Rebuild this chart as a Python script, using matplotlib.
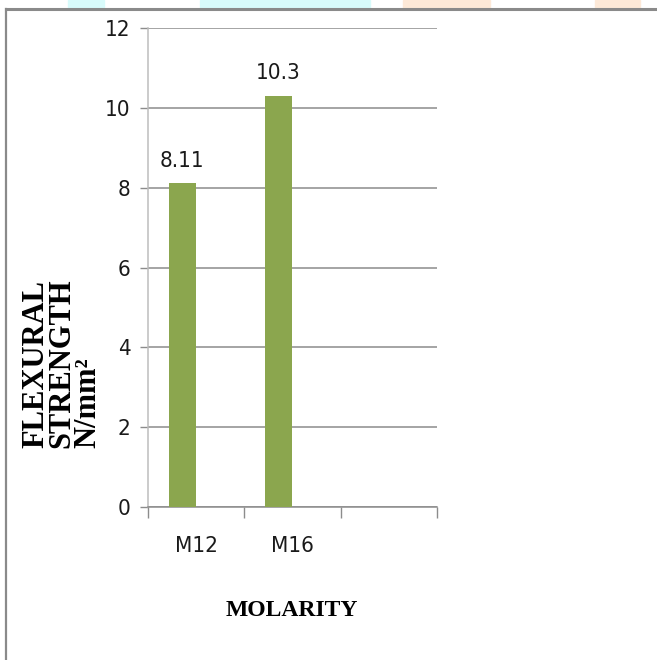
import matplotlib
matplotlib.use("Agg")
import matplotlib.pyplot as plt
from matplotlib import font_manager
from matplotlib.lines import Line2D
from matplotlib.patches import Rectangle

categories = ["M12", "M16", ""]
strength = [8.11, 10.3]
yticks = [0, 2, 4, 6, 8, 10, 12]

installed = {(f.name, f.stretch) for f in font_manager.fontManager.ttflist}
print(sorted(n for n in installed if "DejaVu" in n[0] or "Liberation" in n[0]))
narrow = dict(family="DejaVu Sans", fontstretch="condensed")
serif = "Liberation Serif"

bar_color = "#8ba64e"
grid_color = "#8c8c8c"
text_color = "#1a1a1a"

fig = plt.figure(figsize=(6.57, 6.60), dpi=100)
ax = fig.add_axes([148 / 657, 153 / 660, 289 / 657, 479 / 660])

# bars sit a little left of each slot centre, as in a clustered column layout
xpos = [i - 0.145 for i in range(len(strength))]
bars = ax.bar(xpos, strength, width=0.28, color=bar_color, zorder=3)
for x, v in zip(xpos, strength):
    ax.annotate(f"{v:g}", (x, v), xytext=(0, 9), textcoords="offset points",
                ha="center", va="bottom", fontsize=16, color=text_color, **narrow)

ax.set_xlim(-0.5, len(categories) - 0.5)
ax.set_ylim(0, 12)
ax.set_yticks(yticks)
ax.set_yticklabels([str(t) for t in yticks], fontsize=16, color=text_color, **narrow)
ax.set_xticks(range(len(categories)))
ax.set_xticklabels(categories, fontsize=16, color=text_color, **narrow)
ax.set_xticks([i - 0.5 for i in range(len(categories) + 1)], minor=True)

ax.tick_params(axis="y", length=6, width=1, color=grid_color, pad=6.5)
ax.tick_params(axis="x", which="major", length=0, pad=21)
ax.tick_params(axis="x", which="minor", length=8, width=1, color=grid_color)

ax.yaxis.grid(True, color=grid_color, linewidth=1.1, zorder=0)
for side in ("top", "right"):
    ax.spines[side].set_visible(False)
ax.spines["left"].set_color("#bdbdbd")
ax.spines["bottom"].set_color(grid_color)
ax.spines["left"].set_linewidth(1.1)
ax.spines["bottom"].set_linewidth(1.1)

fig.text(292 / 657, 1 - 610 / 660, "MOLARITY", ha="center", va="center",
         family=serif, weight="bold", fontsize=17, color="black")
fig.text(62 / 657, 1 - 448 / 660, "FLEXURAL\nSTRENGTH\nN/mm²",
         rotation=90, ha="center", va="bottom", multialignment="left",
         family=serif, weight="bold", fontsize=22, linespacing=0.88,
         color="black")

# faint coloured marks above the frame
for x0, x1, c in [(68, 104, "#d8fbfb"), (200, 370, "#d8fbfb"),
                  (403, 490, "#fde9d8"), (595, 640, "#fde9d8")]:
    fig.patches.append(Rectangle((x0 / 657, 1 - 8 / 660), (x1 - x0) / 657, 8 / 660,
                                 transform=fig.transFigure, color=c, zorder=0))

# outer frame: top and left edges
fig.lines.append(Line2D([6 / 657, 1], [1 - 9 / 660, 1 - 9 / 660],
                        transform=fig.transFigure, color="#8a8a8a", linewidth=2.2))
fig.lines.append(Line2D([6 / 657, 6 / 657], [0, 1 - 9 / 660],
                        transform=fig.transFigure, color="#8a8a8a", linewidth=1.6))

fig.savefig("out.png", dpi=100)
